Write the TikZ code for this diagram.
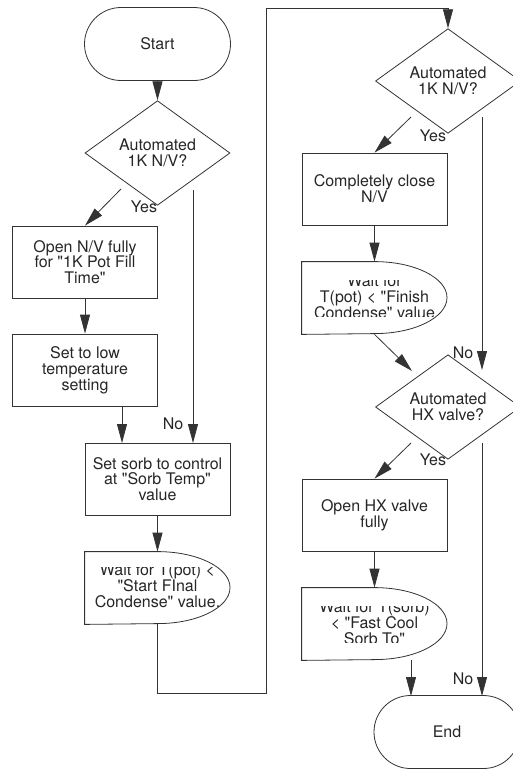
\documentclass[tikz,border=0pt]{standalone}
\usepackage{fontspec}
\setmainfont{TeX Gyre Heros}[Ligatures=TeXOff]
\usetikzlibrary{shapes.geometric,shapes.misc,arrows.meta}
\begin{document}
\begin{tikzpicture}[x=1pt,y=-1pt,line width=0.8pt,color=black!80,
  lbl/.style={font=\fontsize{16}{15.8}\selectfont,text=black!85,inner sep=0},
  txt/.style={lbl,align=center},
  proc/.style={txt,draw,rectangle,minimum width=145pt,minimum height=72pt},
  term/.style={txt,draw,rounded rectangle,minimum width=146pt,minimum height=73pt},
  dec/.style={txt,draw,diamond,minimum width=145pt,minimum height=72pt},
  waitbox/.style={rectangle,minimum width=145pt,minimum height=72pt,inner sep=0},
  arr/.style={-{Triangle[length=19pt,width=10pt]}},
]
\useasboundingbox[fill=white] (0,0) rectangle (512,769);

% left column
\node[term] (start) at (157.5,44) {Start};
\node[dec] (d1) at (157.5,153) {Automated\\1K N/V?};
\node[proc] (b1) at (85,262) {Open N/V fully\\for "1K Pot Fill\\Time"};
\node[proc] (b2) at (85,370) {Set to low\\temperature\\setting};
\node[proc] (b3) at (157.5,479) {Set sorb to control\\at "Sorb Temp"\\value};
\node[waitbox] (w1) at (157.5,588) {};
\draw (w1.north west) -- (w1.north) arc[start angle=-90,end angle=90,x radius=72.5,y radius=36] -- (w1.south west) -- cycle;
\begin{scope}
  \clip (85,567) rectangle (235,624);
  \node[txt] (t1) at (157.5,585.5) {Wait for T(pot) <\\"Start FInal\\Condense" value.};
\end{scope}

% right column
\node[dec] (d2) at (448,81) {Automated\\1K N/V?};
\node[proc] (b4) at (374.5,189) {Completely close\\N/V};
\node[waitbox] (w2) at (374.5,298) {};
\draw (w2.north west) -- (w2.north) arc[start angle=-90,end angle=90,x radius=72.5,y radius=36] -- (w2.south west) -- cycle;
\begin{scope}
  \clip (302,280) rectangle (452,316);
  \node[txt] (t2) at (374.5,297) {Wait for\\T(pot) < "Finish\\Condense" value};
\end{scope}
\node[dec] (d3) at (448,407) {Automated\\HX valve?};
\node[proc] (b5) at (374.5,515) {Open HX valve\\fully};
\node[waitbox] (w3) at (374.5,624) {};
\draw (w3.north west) -- (w3.north) arc[start angle=-90,end angle=90,x radius=72.5,y radius=36] -- (w3.south west) -- cycle;
\begin{scope}
  \clip (302,606) rectangle (452,642);
  \node[txt] (t3) at (374.5,623) {Wait for T(sorb)\\< "Fast Cool\\Sorb To"};
\end{scope}
\node[term] (end) at (447,732) {End};

% labels
\node[lbl] (yes1) at (144,207) {Yes};
\node[lbl] (no1) at (173,424) {No};
\node[lbl] (yes2) at (433,136) {Yes};
\node[lbl] (no2) at (463,353) {No};
\node[lbl] (yes3) at (433,460) {Yes};
\node[lbl] (no3) at (463,679) {No};

% connectors
\draw[arr] (start) -- (d1);
\coordinate (d1y) at (121,189);
\draw[arr] (d1y) -- (b1.north);
\coordinate (d1n) at (193,190);
\coordinate (b3n) at (193,443);
\draw[arr] (d1n) -- (b3n);
\draw[arr] (b1) -- (b2);
\coordinate (b2s) at (122,406);
\coordinate (b3w) at (122,443);
\draw[arr] (b2s) -- (b3w);
\draw[arr] (b3) -- (w1.north);
\coordinate (c1) at (266,693);
\coordinate (c2) at (266,8);
\draw[arr] (w1.south) |- (c1) -- (c2) -| (d2.north);
\coordinate (d2y) at (411,117);
\draw[arr] (d2y) -- (b4.north);
\coordinate (d2n) at (482,117);
\coordinate (d3n) at (482,370);
\draw[arr] (d2n) -- (d3n);
\draw[arr] (b4) -- (w2.north);
\coordinate (d3a) at (412,371);
\draw[arr] (w2.south) -- (d3a);
\coordinate (d3y) at (411,443);
\draw[arr] (d3y) -- (b5.north);
\coordinate (d3nn) at (482,443);
\coordinate (endn) at (482,696);
\draw[arr] (d3nn) -- (endn);
\draw[arr] (b5) -- (w3.north);
\coordinate (w3s) at (411,660);
\coordinate (ende) at (411,696);
\draw[arr] (w3s) -- (ende);
\end{tikzpicture}
\end{document}
